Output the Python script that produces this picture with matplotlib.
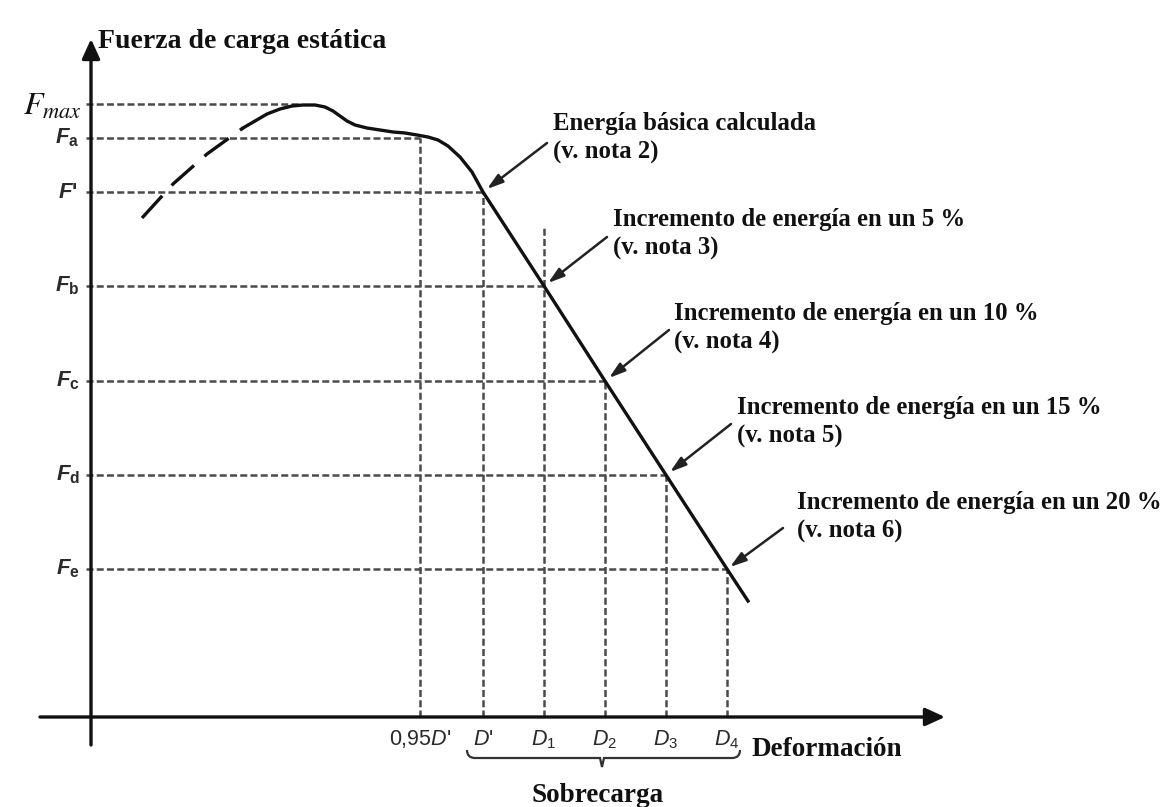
import matplotlib
matplotlib.use("Agg")
import matplotlib.pyplot as plt
from matplotlib.patches import FancyArrowPatch, PathPatch
from matplotlib.path import Path

# ---------------- data (schematic units: x = deformation, y = force) ----------------
# force levels on the vertical axis
force_names = ["Fmax", "Fa", "F'", "Fb", "Fc", "Fd", "Fe"]
force_levels = [703, 669, 615, 521, 426, 332, 238]
force_line_ends = [298, 420, 483, 544, 605, 666, 727]   # deformation where each dashed level meets curve

# deformation marks on the horizontal axis
defo_labels = ["0,95$D$'", "$D$'", "$D_1$", "$D_2$", "$D_3$", "$D_4$"]
defo_values = [420, 483, 544, 605, 666, 727]
defo_line_tops = [669, 615, 582, 426, 332, 238]

# load-deformation curve: dashed (extrapolated) start and solid part
curve_dash_x = [142, 173, 207, 243]
curve_dash_y = [589, 623, 653, 679]
curve_x = [243, 255, 267, 280, 292, 303, 315, 325, 333, 340, 347, 355, 367, 380, 393,
           405, 417, 428, 438, 448, 460, 472, 483, 544, 605, 666, 727, 748]
curve_y = [679, 686, 693, 698, 701, 702, 702, 700, 696, 691, 686, 682, 679, 677, 675,
           674, 672, 670, 667, 661, 650, 635, 615, 521, 426, 332, 238, 206]

# annotations
note_line1 = ["Energía básica calculada",
              "Incremento de energía en un 5 %",
              "Incremento de energía en un 10 %",
              "Incremento de energía en un 15 %",
              "Incremento de energía en un 20 %"]
note_line2 = ["(v. nota 2)", "(v. nota 3)", "(v. nota 4)", "(v. nota 5)", "(v. nota 6)"]
note_x = [553, 613, 674, 737, 797]
note_y = [677, 581, 487, 393, 298]
arrow_start_x = [547, 607, 669, 731, 783]
arrow_start_y = [664, 570, 477, 383, 279]
arrow_end_x = [487, 548, 609, 670, 730]
arrow_end_y = [618, 524, 429, 335, 240]

# ---------------- styling ----------------
plt.rcParams["mathtext.fontset"] = "custom"
plt.rcParams["mathtext.rm"] = "Liberation Sans"
plt.rcParams["mathtext.it"] = "Liberation Sans:italic"
plt.rcParams["mathtext.bf"] = "Liberation Sans:italic:bold"
plt.rcParams["mathtext.sf"] = "Liberation Sans:bold"

SERIF = "Liberation Serif"
SANS = "Liberation Sans"
INK = "#111111"
GRID = "#4a4a4a"
LBL = "#2a2a2a"
DASH = (0, (2.8, 1.3))
NOTE_FS = 17.8

fig = plt.figure(figsize=(11.68, 8.07), dpi=100)
ax = fig.add_axes([0, 0, 1, 1])
ax.set_xlim(0, 1168)
ax.set_ylim(0, 807)
ax.axis("off")

# axes with arrows
X0, Y0 = 91, 90
ax.annotate("", xy=(945, Y0), xytext=(40, Y0),
            arrowprops=dict(arrowstyle="-|>,head_length=0.7,head_width=0.32", lw=2.4,
                            color=INK, shrinkA=0, shrinkB=0, mutation_scale=17))
ax.annotate("", xy=(X0, 768), xytext=(X0, 62),
            arrowprops=dict(arrowstyle="-|>,head_length=0.7,head_width=0.32", lw=2.4,
                            color=INK, shrinkA=0, shrinkB=0, mutation_scale=17))

# dashed reference levels
for lvl, xe in zip(force_levels, force_line_ends):
    ax.plot([86, xe], [lvl, lvl], ls=DASH, lw=1.8, color=GRID, zorder=1)
for xv, yt in zip(defo_values, defo_line_tops):
    ax.plot([xv, xv], [Y0, yt], ls=DASH, lw=1.8, color=GRID, zorder=1)

# curve
ax.plot(curve_dash_x, curve_dash_y, ls=(0, (9, 4.2)), lw=2.4, color=INK,
        dash_capstyle="butt", zorder=3)
ax.plot(curve_x, curve_y, lw=2.4, color=INK, zorder=3)

# force labels
ax.text(82, force_levels[0] - 11, r"$F_{max}$", fontsize=23, ha="right", va="baseline",
        math_fontfamily="stix", color=INK)
ax.text(80, force_levels[1], r"$\mathbf{F}_\mathsf{a}$", fontsize=16, ha="right",
        va="center", color=LBL)
ax.text(78, force_levels[2], r"$\mathbf{F}$'", fontsize=16, ha="right", va="center",
        color=LBL, family=SANS, fontweight="bold")
for name, lvl in zip(["b", "c", "d", "e"], force_levels[3:]):
    ax.text(80, lvl, r"$\mathbf{F}_\mathsf{%s}$" % name, fontsize=16, ha="right",
            va="center", color=LBL)

# deformation labels
for lab, xv in zip(defo_labels, defo_values):
    ax.text(xv, 62, lab, fontsize=15.5, ha="center", va="baseline", color=LBL, family=SANS)

# axis titles
ax.text(98, 759, "Fuerza de carga estática", fontsize=20, fontweight="bold",
        family=SERIF, ha="left", va="baseline", color=INK)
ax.text(752, 51, "Deformación", fontsize=19.5, fontweight="bold", family=SERIF,
        ha="left", va="baseline", color=INK)
ax.text(598, 5, "Sobrecarga", fontsize=19.5, fontweight="bold", family=SERIF,
        ha="center", va="baseline", color=INK)

# brace under D' ... D4
bx0, bx1, bxm = 467, 740, 602
by_top, by_mid, by_tip = 57, 49, 40
verts = [(bx0, by_top), (bx0, by_mid), (bx0 + 8, by_mid), (bx0 + 14, by_mid),
         (bxm - 6, by_mid), (bxm - 2, by_mid), (bxm, by_tip),
         (bxm + 2, by_mid), (bxm + 6, by_mid),
         (bx1 - 14, by_mid), (bx1 - 8, by_mid), (bx1, by_mid), (bx1, by_top)]
codes = [Path.MOVETO, Path.CURVE3, Path.CURVE3, Path.LINETO,
         Path.LINETO, Path.LINETO, Path.LINETO,
         Path.LINETO, Path.LINETO,
         Path.LINETO, Path.LINETO, Path.CURVE3, Path.CURVE3]
ax.add_patch(PathPatch(Path(verts, codes), fill=False, lw=1.6, edgecolor="#333333"))

# annotations with arrows
for t1, t2, tx, ty in zip(note_line1, note_line2, note_x, note_y):
    ax.text(tx, ty, t1, fontsize=NOTE_FS, fontweight="bold", family=SERIF,
            ha="left", va="baseline", color=INK)
    ax.text(tx, ty - 29, t2, fontsize=NOTE_FS, fontweight="bold", family=SERIF,
            ha="left", va="baseline", color=INK)
for sx, sy, ex, ey in zip(arrow_start_x, arrow_start_y, arrow_end_x, arrow_end_y):
    ax.add_patch(FancyArrowPatch((sx, sy), (ex, ey),
                                 arrowstyle="-|>,head_length=0.8,head_width=0.25",
                                 mutation_scale=12, lw=1.8, color="#222222",
                                 shrinkA=0, shrinkB=0, zorder=4))

fig.savefig("out.png", dpi=100, facecolor="white")
